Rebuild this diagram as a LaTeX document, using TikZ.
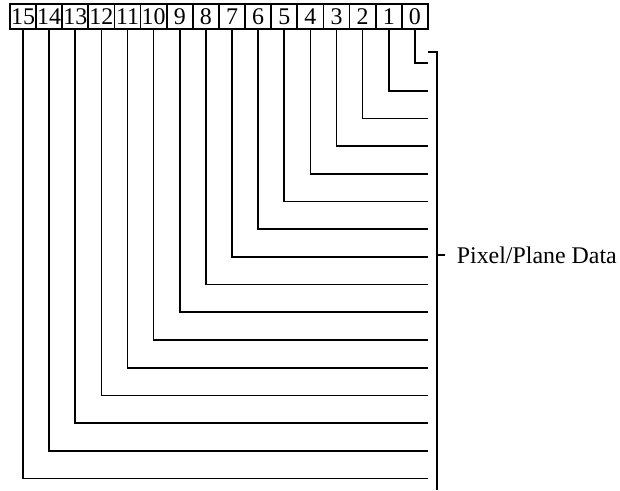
\documentclass[tikz,border=0pt]{standalone}
\usepackage{fontspec}
\setmainfont{Liberation Serif}
\usepackage{tikz}

\begin{document}
\begin{tikzpicture}[x=0.025cm,y=-0.025cm,line width=1.2pt,
    bitbox/.style={draw,rectangle,inner sep=0pt,minimum width=0.653cm,minimum height=0.625cm,
      font=\fontsize{17}{19}\selectfont},
    datalabel/.style={anchor=west,inner xsep=7.8pt,font=\fontsize{17}{19}\selectfont}]
  \useasboundingbox (0,0) rectangle (620,491);
  \foreach \b in {0,...,15}
    \node[bitbox] (b\b) at ({414.9-26.125*\b},16.5) {\b};
  \foreach \b in {0,...,15}
    \coordinate (e\b) at (428,{63+27.7*\b});
  \foreach \b in {0,...,15}
    \draw (b\b.south) |- (e\b);
  \coordinate (top) at (437,52);
  \coordinate (bot) at (437,490);
  \draw (e0 |- top) -- (top) -- (bot);
  \node[datalabel] (data) at (445,255) {Pixel/Plane Data};
  \draw (top |- data.west) -- (data.west);
\end{tikzpicture}
\end{document}
